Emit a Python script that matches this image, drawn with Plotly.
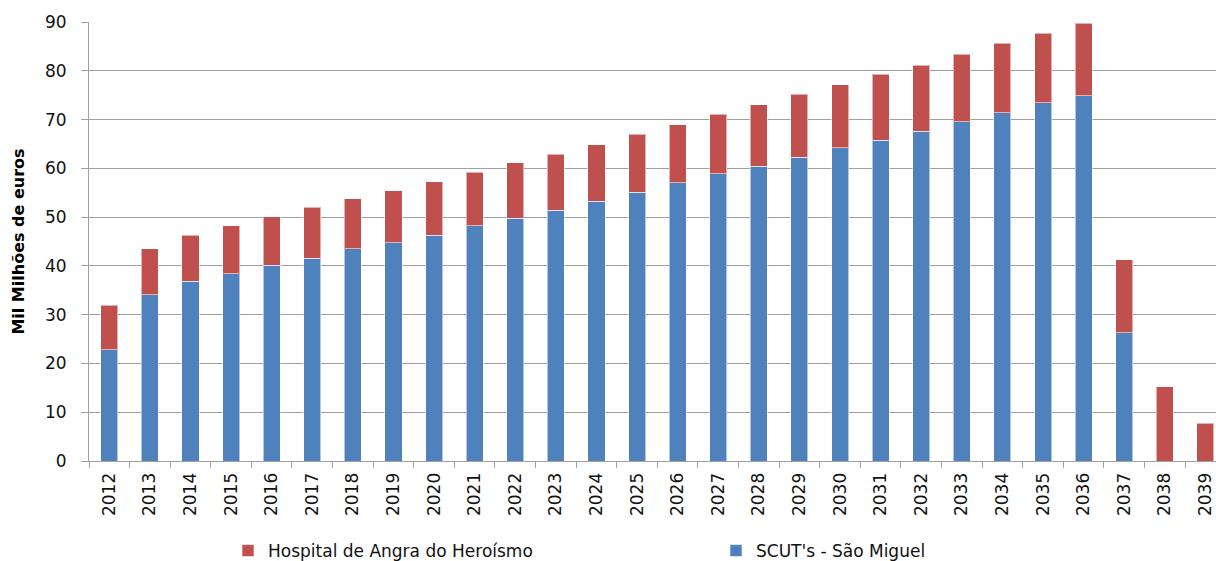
import plotly.graph_objects as go

years = [str(y) for y in range(2012, 2040)]
scut_sao_miguel = [22.8, 34.1, 36.9, 38.4, 40.1, 41.6, 43.5, 44.7, 46.3, 48.2,
                   49.8, 51.4, 53.3, 55.1, 57.0, 58.9, 60.4, 62.3, 64.2, 65.8,
                   67.6, 69.5, 71.4, 73.4, 74.9, 26.3, 0.0, 0.0]
hospital_angra = [9.1, 9.4, 9.4, 9.8, 10.0, 10.4, 10.3, 10.7, 11.0, 11.0,
                  11.3, 11.5, 11.5, 11.9, 11.9, 12.2, 12.6, 12.9, 12.9, 13.5,
                  13.5, 13.9, 14.2, 14.3, 14.8, 15.0, 15.2, 7.7]
y_ticks = [0, 10, 20, 30, 40, 50, 60, 70, 80, 90]

BLUE = "#4F81BD"
RED = "#C0504D"
GRID = "#A0A0A0"
FONT = "DejaVu Sans"

fig = go.Figure()
fig.add_trace(go.Bar(
    x=years, y=scut_sao_miguel, name="SCUT's - São Miguel",
    marker=dict(color=BLUE, line=dict(color="rgba(255,255,255,0.55)", width=1)),
))
fig.add_trace(go.Bar(
    x=years, y=hospital_angra, name="Hospital de Angra do Heroísmo",
    marker=dict(color=RED, line=dict(color="rgba(255,255,255,0.55)", width=1)),
))

fig.update_layout(
    barmode="stack",
    bargap=0.58,
    width=1216, height=561,
    paper_bgcolor="white", plot_bgcolor="white",
    margin=dict(l=89, r=0, t=22, b=100),
    font=dict(family=FONT, color="#111111"),
    showlegend=True,
    legend=dict(
        orientation="h", traceorder="reversed",
        xref="container", yref="container",
        x=228 / 1216, xanchor="left",
        y=1 - 551 / 561, yanchor="middle",
        font=dict(family=FONT, size=17, color="#111111"),
        entrywidth=443, entrywidthmode="pixels",
        bgcolor="rgba(0,0,0,0)",
    ),
    xaxis=dict(
        type="category",
        range=[-0.5, 27.26],
        tickangle=-90,
        tickfont=dict(family=FONT, size=17, color="#111111"),
        ticks="outside", tickson="boundaries", ticklen=6, tickcolor=GRID, tickwidth=1,
        ticklabelstandoff=4,
        showline=True, linecolor=GRID, linewidth=1,
        showgrid=False, zeroline=False,
    ),
    yaxis=dict(
        range=[0, 90],
        tickvals=y_ticks,
        tickfont=dict(family=FONT, size=17, color="#111111"),
        ticks="outside", ticklen=7, tickcolor=GRID, tickwidth=1,
        ticklabelstandoff=11,
        showline=True, linecolor=GRID, linewidth=1,
        showgrid=True, gridcolor=GRID, gridwidth=1,
        zeroline=False,
        title=dict(text="Mil Milhões de euros",
                   font=dict(family=FONT, size=16, color="#000000", weight="bold"),
                   standoff=16),
    ),
)

fig.write_html(
    "out.html",
    config={"displayModeBar": False},
    post_script="document.body.style.margin='0';document.body.style.overflow='hidden';",
)
